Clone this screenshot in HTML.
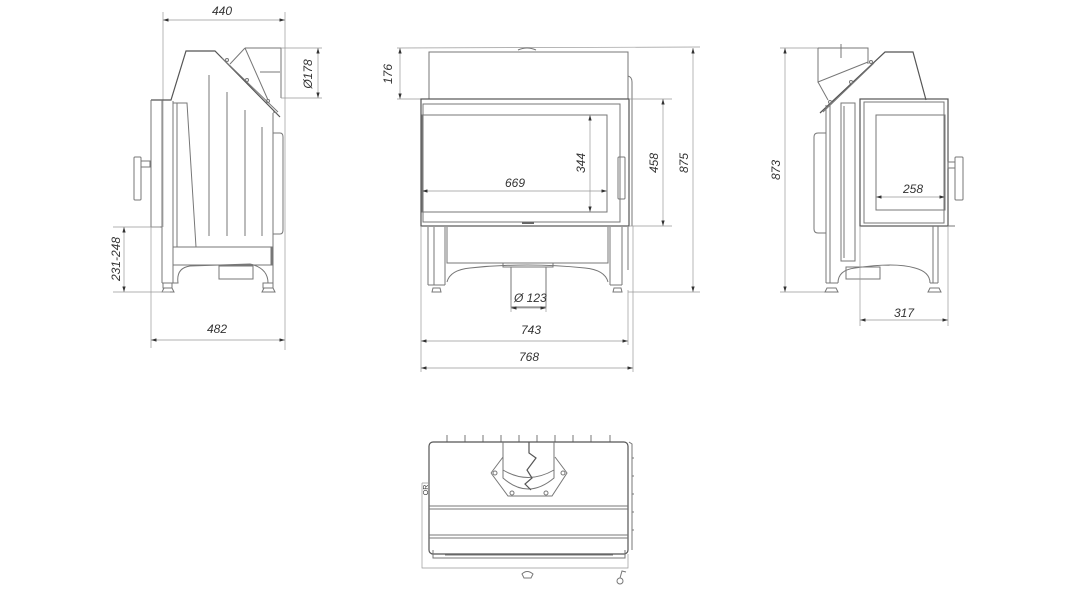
<!DOCTYPE html>
<html><head><meta charset="utf-8"><style>
html,body{margin:0;padding:0;background:#fff}
svg{display:block}
text{font-family:"Liberation Sans",sans-serif;font-style:italic;font-size:12px;fill:#333}
.l{stroke:#777;stroke-width:1;fill:none}
.d{stroke:#999;stroke-width:0.7;fill:none}
.t{stroke:#555;stroke-width:1.2;fill:none}
</style></head><body>
<svg width="1067" height="600" viewBox="0 0 1067 600" xmlns="http://www.w3.org/2000/svg">
<defs>
<marker id="a" viewBox="0 0 10 6" refX="10" refY="3" markerWidth="8" markerHeight="5" orient="auto-start-reverse"><path d="M0,0L10,3L0,6z" fill="#333"/></marker>
</defs>

<!-- ===== LEFT VIEW ===== -->
<g>
<line class="d" x1="163" y1="12" x2="163" y2="227"/>
<line class="d" x1="285" y1="12" x2="285" y2="350"/>
<line class="d" x1="163" y1="20" x2="285" y2="20" marker-start="url(#a)" marker-end="url(#a)"/>
<text x="212" y="15">440</text>
<!-- flue -->
<path class="l" d="M245,48 L281,48 L281,98 M245,48 L230,64 M245,48 L268,100 M260,72 L280,72"/>
<line class="d" x1="281" y1="48" x2="322" y2="48"/><line class="d" x1="281" y1="98" x2="322" y2="98"/>
<line class="d" x1="318" y1="48" x2="318" y2="98" marker-start="url(#a)" marker-end="url(#a)"/>
<text transform="translate(312,74) rotate(-90)" text-anchor="middle">Ø178</text>
<!-- body -->
<path class="t" d="M151,100 L171,100 L186,51 L215,51 L280,117"/>
<path class="l" d="M222,58 L278,112 M277,113 L273,112"/>
<circle cx="227" cy="60" r="1.5" class="l"/><circle cx="247" cy="80" r="1.5" class="l"/><circle cx="268" cy="101" r="1.5" class="l"/>
<line class="l" x1="151" y1="100" x2="151" y2="227"/>
<line class="l" x1="162" y1="100" x2="162" y2="227"/>
<line class="l" x1="151" y1="227" x2="162" y2="227"/>
<line class="l" x1="273" y1="113" x2="273" y2="283"/>
<path class="l" d="M273,133 L280,133 Q283,133 283,137 L283,230 Q283,234 280,234 L273,234"/>
<line class="l" x1="162" y1="100" x2="162" y2="283"/>
<line class="l" x1="173" y1="101" x2="173" y2="283"/>
<path class="l" d="M173,103 L187,103 L196,247"/>
<line class="l" x1="177" y1="103" x2="177" y2="247"/>
<line class="l" x1="209" y1="75" x2="209" y2="236"/>
<line class="l" x1="227" y1="92" x2="227" y2="236"/>
<line class="l" x1="245" y1="110" x2="245" y2="236"/>
<line class="l" x1="262" y1="127" x2="262" y2="236"/>
<rect class="l" x="173" y="247" width="99" height="18"/>
<line class="l" x1="271" y1="247" x2="271" y2="265"/>
<path class="l" d="M162,283 L178,283 Q176,268 190,266 L220,265 L250,264 Q268,268 268,283 L273,283"/>
<rect class="l" x="219" y="266" width="34" height="13"/>
<path class="l" d="M163,283 L172,283 L172,288 L163,288 Z M164,288 L162,292 L174,292 L172,288"/>
<path class="l" d="M263,283 L273,283 L273,288 L263,288 Z M264,288 L262,292 L275,292 L273,288"/>
<!-- handle -->
<rect class="l" x="134" y="157" width="7" height="43" rx="1"/>
<rect class="l" x="141" y="161" width="9" height="6"/>
<line class="d" x1="113" y1="227" x2="160" y2="227"/>
<line class="d" x1="113" y1="292" x2="170" y2="292"/>
<line class="d" x1="124" y1="227" x2="124" y2="292" marker-start="url(#a)" marker-end="url(#a)"/>
<text transform="translate(120,259) rotate(-90)" text-anchor="middle">231-248</text>
<line class="d" x1="151" y1="227" x2="151" y2="348"/>
<line class="d" x1="151" y1="340" x2="285" y2="340" marker-start="url(#a)" marker-end="url(#a)"/>
<text x="207" y="333">482</text>
</g>

<!-- ===== CENTER VIEW ===== -->
<g>
<line class="d" x1="397" y1="48" x2="700" y2="47"/>
<line class="d" x1="397" y1="99" x2="430" y2="99"/>
<line class="d" x1="400" y1="48" x2="400" y2="99" marker-start="url(#a)" marker-end="url(#a)"/>
<text transform="translate(392,74) rotate(-90)" text-anchor="middle">176</text>
<rect class="l" x="429" y="52" width="199" height="47"/>
<path class="l" d="M518,50 Q527,46 536,50"/>
<path class="l" d="M628,76 Q632,77 632,82 L632,226"/>
<rect class="t" x="421" y="99" width="208" height="127"/>
<rect class="l" x="423" y="104" width="197" height="118"/>
<rect class="l" x="422" y="115" width="185" height="97"/>
<rect class="l" x="618" y="157" width="7" height="42" rx="1"/>
<rect x="522" y="222" width="12" height="2" fill="#666"/>
<line class="d" x1="590" y1="115" x2="590" y2="212" marker-start="url(#a)" marker-end="url(#a)"/>
<text transform="translate(585,163) rotate(-90)" text-anchor="middle">344</text>
<line class="d" x1="422" y1="191" x2="607" y2="191" marker-start="url(#a)" marker-end="url(#a)"/>
<text x="505" y="187">669</text>
<line class="d" x1="629" y1="99" x2="672" y2="99"/>
<line class="d" x1="629" y1="226" x2="672" y2="226"/>
<line class="d" x1="663" y1="99" x2="663" y2="226" marker-start="url(#a)" marker-end="url(#a)"/>
<text transform="translate(658,163) rotate(-90)" text-anchor="middle">458</text>
<line class="d" x1="628" y1="292" x2="700" y2="292"/>
<line class="d" x1="693" y1="48" x2="693" y2="292" marker-start="url(#a)" marker-end="url(#a)"/>
<text transform="translate(688,163) rotate(-90)" text-anchor="middle">875</text>
<!-- base -->
<path class="l" d="M428,227 L428,285 M434,227 L434,285 M445,227 L445,285 M428,285 L445,285"/>
<path class="l" d="M610,227 L610,285 M622,227 L622,285 M628,227 L628,270 M610,285 L622,285"/>
<path class="l" d="M447,227 L447,263 L608,263 L608,227"/>
<path class="l" d="M447,282 Q450,270 470,268 Q527,262 585,268 Q605,270 608,282"/>
<rect class="l" x="503" y="263" width="50" height="4"/>
<rect class="l" x="511" y="267" width="35" height="40"/>
<path class="l" d="M433,288 L440,288 L441,292 L432,292 Z M614,288 L621,288 L622,292 L613,292 Z"/>
<line class="d" x1="511" y1="300" x2="511" y2="312"/><line class="d" x1="546" y1="300" x2="546" y2="312"/>
<line class="d" x1="511" y1="308" x2="546" y2="308" marker-start="url(#a)" marker-end="url(#a)"/>
<text x="514" y="302">Ø 123</text>
<line class="d" x1="421" y1="226" x2="421" y2="372"/>
<line class="d" x1="628" y1="290" x2="628" y2="345"/>
<line class="d" x1="633" y1="226" x2="633" y2="372"/>
<line class="d" x1="421" y1="341" x2="628" y2="341" marker-start="url(#a)" marker-end="url(#a)"/>
<text x="521" y="334">743</text>
<line class="d" x1="421" y1="368" x2="633" y2="368" marker-start="url(#a)" marker-end="url(#a)"/>
<text x="519" y="361">768</text>
</g>

<!-- ===== RIGHT VIEW ===== -->
<g>
<line class="d" x1="780" y1="48" x2="822" y2="48"/>
<line class="d" x1="780" y1="292" x2="832" y2="292"/>
<line class="d" x1="785" y1="48" x2="785" y2="292" marker-start="url(#a)" marker-end="url(#a)"/>
<text transform="translate(780,170) rotate(-90)" text-anchor="middle">873</text>
<path class="l" d="M818,48 L868,48 L868,64 M818,48 L818,82 L868,62 M841,44 L841,58 M818,82 L828,100"/>
<path class="t" d="M820,113 L885,52 L913,52 L926,100"/>
<path class="l" d="M823,112 L874,63"/>
<circle cx="830" cy="102" r="1.5" class="l"/><circle cx="851" cy="82" r="1.5" class="l"/><circle cx="871" cy="62" r="1.5" class="l"/>
<line class="l" x1="826" y1="105" x2="826" y2="283"/>
<line class="l" x1="830" y1="105" x2="830" y2="283"/>
<path class="l" d="M826,133 L818,133 Q814,133 814,137 L814,229 Q814,233 818,233 L826,233"/>
<rect class="l" x="841" y="103" width="14" height="158"/>
<line class="l" x1="844" y1="106" x2="844" y2="258"/>
<rect class="t" x="860" y="99" width="88" height="127"/>
<rect class="l" x="864" y="102" width="80" height="121"/>
<rect class="l" x="876" y="115" width="69" height="95"/>
<line class="d" x1="876" y1="197" x2="945" y2="197" marker-start="url(#a)" marker-end="url(#a)"/>
<text x="903" y="193">258</text>
<rect class="l" x="955" y="157" width="8" height="43" rx="1"/>
<rect class="l" x="948" y="162" width="7" height="6"/>
<path class="l" d="M933,226 L933,283 M938,226 L938,283 M948,226 L955,226"/>
<path class="l" d="M838,283 Q838,270 855,268 Q895,262 915,268 Q930,272 930,283"/>
<rect class="l" x="846" y="267" width="34" height="12"/>
<path class="l" d="M826,283 L838,283 M827,288 L836,288 L838,292 L825,292 Z M930,283 L938,283 M930,288 L939,288 L941,292 L928,292 Z"/>
<line class="d" x1="860" y1="226" x2="860" y2="326"/>
<line class="d" x1="948" y1="226" x2="948" y2="326"/>
<line class="d" x1="860" y1="320" x2="948" y2="320" marker-start="url(#a)" marker-end="url(#a)"/>
<text x="894" y="317">317</text>
</g>

<!-- ===== BOTTOM VIEW ===== -->
<g>
<path class="l" d="M447,435 L447,442 M465,435 L465,442 M483,435 L483,442 M501,435 L501,442 M519,435 L519,442 M537,435 L537,442 M555,435 L555,442 M573,435 L573,442 M591,435 L591,442 M610,435 L610,442"/>
<rect class="t" x="429" y="442" width="199" height="112" rx="4"/>
<path class="l" d="M503,442 L503,478 Q528,500 554,478 L554,442"/>
<path class="l" d="M503,470 Q528,485 554,470"/>
<path class="t" d="M529,442 L529,453 L536,458 L527,470 L532,478 L525,484 L531,490"/>
<path class="l" d="M491,473 L503,457 M555,457 L567,473 L552,496 L508,496 L491,473"/>
<circle class="l" cx="495" cy="473" r="2"/><circle class="l" cx="563" cy="473" r="2"/>
<circle class="l" cx="512" cy="493" r="2"/><circle class="l" cx="546" cy="493" r="2"/>
<path class="l" d="M429,506 L628,506 M429,509 L628,509 M429,535 L628,535 M429,538 L628,538"/>
<path class="l" d="M433,550 L433,558 L625,558 L625,550 M445,555 L613,555"/>
<path class="d" d="M422,483 L428,483 M422,483 L422,568 L628,568 L628,554"/>
<text transform="translate(428,490) rotate(-90)" style="font-size:7px;font-style:normal" text-anchor="middle">OR</text>
<path class="l" d="M522,574 Q527,569 533,574 L531,578 L524,578 Z"/>
<circle class="l" cx="620" cy="581" r="3"/><path class="l" d="M620,578 L622,571 L626,572"/>
<path class="l" d="M632,458 L634,458 M632,476 L634,476 M632,494 L634,494 M632,512 L634,512 M632,530 L634,530 M629,442 L632,444 L632,550"/>
</g>
</svg>
</body></html>
